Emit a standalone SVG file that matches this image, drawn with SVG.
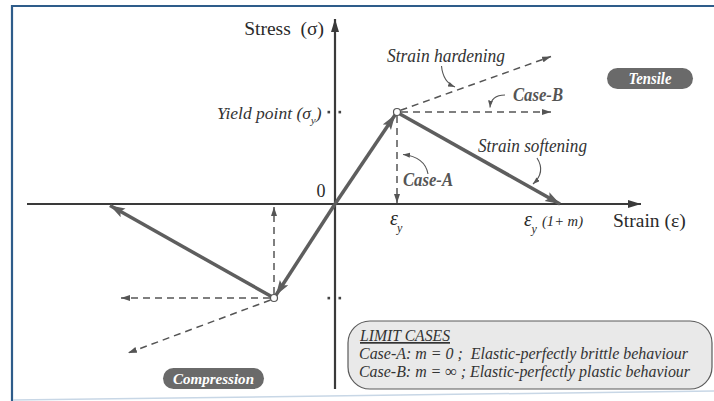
<svg xmlns="http://www.w3.org/2000/svg" width="714" height="401" viewBox="0 0 714 401">
<style>
.serif{font-family:"Liberation Serif","Times New Roman",serif;fill:#2a2a2a}
.it{font-style:italic}
.lbl{font-family:"Liberation Serif","Times New Roman",serif;font-style:italic;font-size:18px;fill:#333}
.case{font-family:"Liberation Serif","Times New Roman",serif;font-style:italic;font-weight:bold;font-size:18px;fill:#555}
.badge{fill:#6a6a6a}
.badgetxt{font-family:"Liberation Serif","Times New Roman",serif;font-style:italic;font-weight:bold;fill:#fff;text-anchor:middle}
.thick{stroke:#5e5e5e;stroke-width:3.5;fill:none;marker-end:url(#bigArrow)}
.dash{stroke:#555;stroke-width:1.5;stroke-dasharray:7 5;fill:none;marker-end:url(#smallArrow)}
.curve{stroke:#555;stroke-width:1.1;fill:none;marker-end:url(#tinyArrow)}
.axis{stroke:#3a3a3a;stroke-width:2.2;fill:none;marker-end:url(#axisArrow)}
.tick{fill:#444}
.boxtxt{font-family:"Liberation Serif","Times New Roman",serif;font-style:italic;font-size:17px;fill:#333}
</style>
<defs>
<marker id="bigArrow" markerUnits="userSpaceOnUse" markerWidth="16" markerHeight="12" refX="15" refY="5" orient="auto">
<path d="M0,0 L15,5 L0,10 L3,5 z" fill="#5e5e5e"/>
</marker>
<marker id="smallArrow" markerUnits="userSpaceOnUse" markerWidth="10" markerHeight="8" refX="9" refY="3" orient="auto">
<path d="M0,0 L9,3 L0,6 z" fill="#555"/>
</marker>
<marker id="tinyArrow" markerUnits="userSpaceOnUse" markerWidth="8" markerHeight="6" refX="7" refY="2.5" orient="auto">
<path d="M0,0 L7,2.5 L0,5 z" fill="#555"/>
</marker>
<marker id="axisArrow" markerUnits="userSpaceOnUse" markerWidth="14" markerHeight="10" refX="13" refY="4" orient="auto">
<path d="M0,0 L13,4 L0,8 z" fill="#3a3a3a"/>
</marker>
</defs>

<g id="frame">
<path d="M11,6 H714" stroke="#2e5c8a" stroke-width="2.2" fill="none"/>
<path d="M12,5 V401" stroke="#2e5c8a" stroke-width="2.2" fill="none"/>
<path d="M13,400 L714,391" stroke="#c8d7e6" stroke-width="1.5" fill="none"/>
</g>

<g id="axes">
<path class="axis" d="M27,204 H641"/>
<path class="axis" d="M335,389 V19"/>
<rect class="tick" x="327.5" y="110.8" width="2.6" height="2.6"/>
<rect class="tick" x="338.5" y="110.8" width="2.6" height="2.6"/>
<rect class="tick" x="327.5" y="296.8" width="2.6" height="2.6"/>
<rect class="tick" x="338.5" y="296.8" width="2.6" height="2.6"/>
</g>

<g id="connectors">
<path class="thick" d="M335,204 L395.2,114.8"/>
<path class="thick" d="M335,204 L275.9,295.2"/>
<path class="thick" d="M400,114 L560,204"/>
<path class="thick" d="M271,296.3 L110,205.5"/>
<path class="dash" d="M397,116 V203"/>
<path class="dash" d="M401,112 H551"/>
<path class="dash" d="M400.5,110.3 L551,56.5"/>
<path class="dash" d="M274,294 V207"/>
<path class="dash" d="M270,298 H121"/>
<path class="dash" d="M270.5,300 L128,353"/>
<path class="curve" d="M441.5,66 Q443,82 455,87"/>
<path class="curve" d="M505,95 Q491,95 490,107.5"/>
<path class="curve" d="M537,158 Q546,172 533,184"/>
<path class="curve" d="M428,174 Q425,157 403,154.5"/>
</g>

<g id="yield-tension">
<circle cx="397" cy="112" r="3.5" fill="#fff" stroke="#555" stroke-width="1.2"/>
</g>
<g id="yield-compression">
<circle cx="274" cy="298" r="3.5" fill="#fff" stroke="#555" stroke-width="1.2"/>
</g>

<g id="axis-labels">
<text class="serif" x="324" y="35" font-size="19.5" text-anchor="end" xml:space="preserve">Stress  (σ)</text>
<text class="serif" x="613" y="227" font-size="19.5">Strain (ε)</text>
<text class="serif" x="321" y="197" font-size="18" text-anchor="middle">0</text>
<text class="lbl" x="217" y="119" style="font-size:17.5px">Yield point (σ<tspan style="font-size:11px" dy="5">y</tspan><tspan dy="-5">)</tspan></text>
<text class="serif it" x="390" y="225" font-size="20">ε</text>
<text class="serif it" x="397" y="232" font-size="12">y</text>
<text class="serif it" x="524" y="226" font-size="20">ε</text>
<text class="serif it" x="531.5" y="233" font-size="12">y</text>
<text class="serif it" x="542" y="226" font-size="15" textLength="41" lengthAdjust="spacingAndGlyphs">(1+ m)</text>
</g>

<g id="strain-hardening">
<text class="lbl" x="387" y="62" textLength="118" lengthAdjust="spacingAndGlyphs">Strain hardening</text>
</g>
<g id="case-b">
<text class="case" x="513" y="101" textLength="50" lengthAdjust="spacingAndGlyphs">Case-B</text>
</g>
<g id="strain-softening">
<text class="lbl" x="478" y="152" textLength="109" lengthAdjust="spacingAndGlyphs">Strain softening</text>
</g>
<g id="case-a">
<text class="case" x="403" y="186" textLength="50" lengthAdjust="spacingAndGlyphs">Case-A</text>
</g>

<g id="tensile">
<rect class="badge" x="607" y="68" width="86" height="21" rx="10.5"/>
<text class="badgetxt" x="650" y="84" font-size="16" textLength="43" lengthAdjust="spacingAndGlyphs">Tensile</text>
</g>
<g id="compression">
<rect class="badge" x="163" y="368" width="101" height="21" rx="10.5"/>
<text class="badgetxt" x="213.5" y="384" font-size="15.5" textLength="81" lengthAdjust="spacingAndGlyphs">Compression</text>
</g>

<g id="limit-cases">
<rect x="348" y="321" width="364" height="68" rx="22" fill="#e9e9e9" stroke="#5a5a5a" stroke-width="1.2"/>
<text class="boxtxt" x="360" y="341" text-decoration="underline" textLength="90" lengthAdjust="spacingAndGlyphs">LIMIT CASES</text>
<text class="boxtxt" x="359" y="359" textLength="329" lengthAdjust="spacingAndGlyphs" xml:space="preserve">Case-A: m = 0 ;  Elastic-perfectly brittle behaviour</text>
<text class="boxtxt" x="359" y="377" textLength="331" lengthAdjust="spacingAndGlyphs">Case-B: m = ∞ ; Elastic-perfectly plastic behaviour</text>
</g>
</svg>
